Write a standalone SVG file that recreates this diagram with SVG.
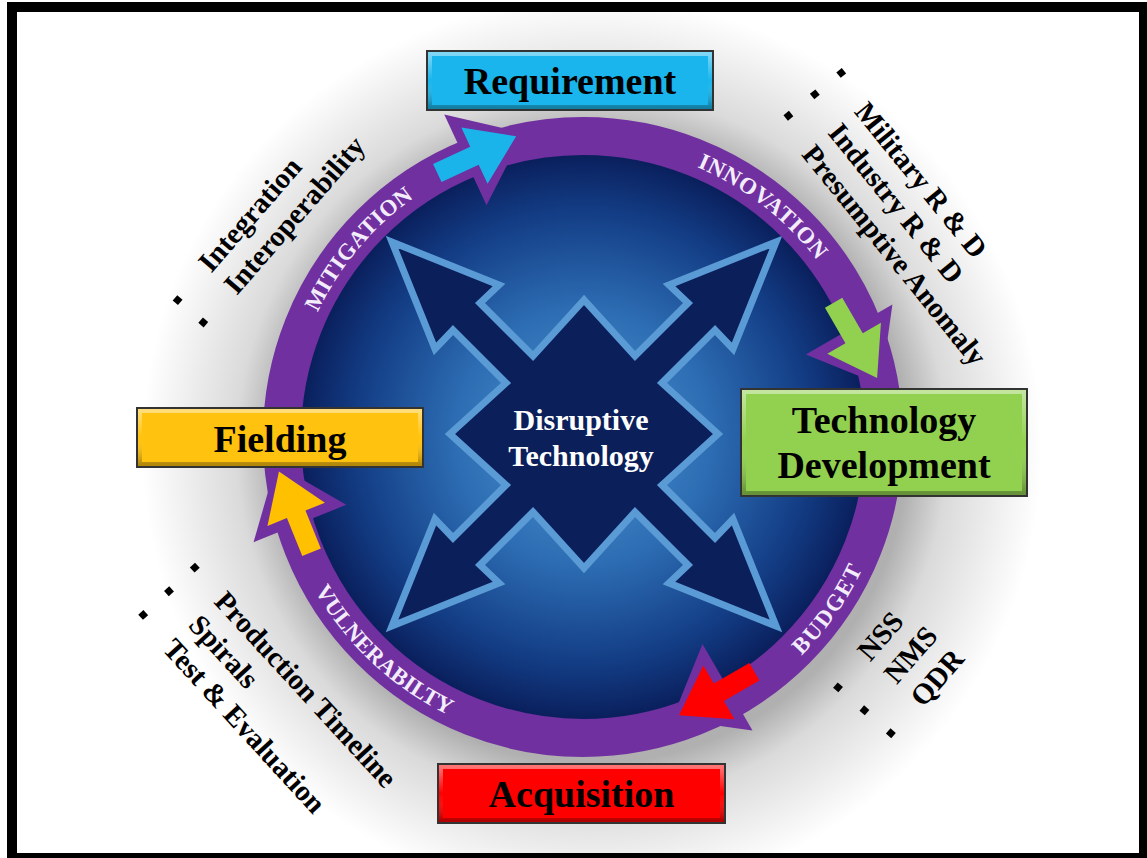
<svg xmlns="http://www.w3.org/2000/svg" width="1147" height="858" viewBox="0 0 1147 858">
<defs>
<style>
.title{font-family:"Liberation Serif","Times New Roman",serif;font-weight:bold;font-size:38px;fill:#000;text-anchor:middle}
.ring{fill:none;stroke:#7030a0;stroke-width:38}
.phead{fill:#7030a0}
.rl{font-family:"Liberation Serif","Times New Roman",serif;font-weight:bold;font-size:23px;fill:#f3ecfb}
.lst{font-family:"Liberation Serif","Times New Roman",serif;font-weight:bold;font-size:29px;fill:#000}
.bul{fill:#000}
.boxr{stroke:#333;stroke-width:2}
.bev{fill:none;stroke:url(#bevel);stroke-width:4}
.ctr{font-family:"Liberation Serif","Times New Roman",serif;font-weight:bold;font-size:30px;fill:#fff;text-anchor:middle}
</style>
<radialGradient id="halo" gradientUnits="userSpaceOnUse" cx="592" cy="448" r="450">
<stop offset="0.7" stop-color="#b0b0b0"/>
<stop offset="0.79" stop-color="#dadada"/>
<stop offset="1" stop-color="#ffffff"/>
</radialGradient>
<radialGradient id="core" gradientUnits="userSpaceOnUse" cx="583" cy="437" r="283">
<stop offset="0" stop-color="#4f97d6"/>
<stop offset="0.45" stop-color="#2d6db3"/>
<stop offset="0.8" stop-color="#133d85"/>
<stop offset="1" stop-color="#0a1f5c"/>
</radialGradient>
<linearGradient id="bevel" x1="0" y1="0" x2="0" y2="1">
<stop offset="0" stop-color="#fff" stop-opacity="0.45"/>
<stop offset="0.5" stop-color="#fff" stop-opacity="0"/>
<stop offset="1" stop-color="#000" stop-opacity="0.3"/>
</linearGradient>
<clipPath id="inner"><rect x="17" y="12" width="1122" height="841"/></clipPath>
<path id="p-innov" d="M633.9,148.5 A293,293 0 0,1 850.7,317.8"/>
<path id="p-mitig" d="M296.4,376.1 A293,293 0 0,1 473.2,165.3"/>
<path id="p-budget" d="M737.5,704.6 A309,309 0 0,0 887.3,490.6"/>
<path id="p-vuln" d="M287.5,527.3 A309,309 0 0,0 513.5,738.1"/>
</defs>

<rect x="0" y="0" width="1147" height="858" fill="#fff"/>
<rect x="7" y="2" width="1140" height="856" fill="#000"/>
<rect x="17" y="12" width="1122" height="841" fill="#fff"/>
<circle cx="592" cy="448" r="450" fill="url(#halo)" clip-path="url(#inner)"/>

<g id="core-circle">
<circle cx="583" cy="437" r="284" fill="url(#core)"/>
</g>

<g id="disruptive-technology">
<polygon transform="translate(584 434)" fill="#0b1f5b" stroke="#5b9bd5" stroke-width="7" stroke-linejoin="miter"
points="0,-134 -51,-78 -104,-131 -85,-149 -192,-192 -149,-85 -131,-104 -78,-51 -134,0 -78,51 -131,104 -149,85 -192,192 -85,149 -104,131 -51,78 0,134 51,78 104,131 85,149 192,192 149,85 131,104 78,51 134,0 78,-51 131,-104 149,-85 192,-192 85,-149 104,-131 51,-78"/>
<text class="ctr" x="581" y="430">Disruptive</text>
<text class="ctr" x="581" y="466">Technology</text>
</g>

<g id="connectors">
<circle class="ring" cx="583" cy="437" r="301"/>
<g id="arrow-requirement" transform="rotate(-23 583 437) rotate(-2 583 136)">
<polygon class="phead" points="583,86 647,136 583,186"/>
<polygon fill="#1ab4ea" points="552,126 593,126 593,105 639,136 593,167 593,146 552,146"/>
</g>
<g id="arrow-techdev" transform="rotate(68 583 437) translate(0 14) rotate(-8 583 136)">
<polygon class="phead" points="583,86 647,136 583,186"/>
<polygon fill="#92d050" points="552,126 593,126 593,105 639,136 593,167 593,146 552,146"/>
</g>
<g id="arrow-acquisition" transform="rotate(150 583 437) translate(0 12)">
<polygon class="phead" points="583,86 647,136 583,186"/>
<polygon fill="#ff0000" points="552,126 593,126 593,105 639,136 593,167 593,146 552,146"/>
</g>
<g id="arrow-fielding" transform="rotate(253 583 437) translate(0 5) rotate(-5 583 136)">
<polygon class="phead" points="583,86 647,136 583,186"/>
<polygon fill="#ffc000" points="552,126 593,126 593,105 639,136 593,167 593,146 552,146"/>
</g>
<text class="rl" letter-spacing="0.7"><textPath href="#p-innov" startOffset="50%" text-anchor="middle">INNOVATION</textPath></text>
<text class="rl" letter-spacing="0.5"><textPath href="#p-mitig" startOffset="50%" text-anchor="middle">MITIGATION</textPath></text>
<text class="rl" letter-spacing="1.8"><textPath href="#p-budget" startOffset="50%" text-anchor="middle">BUDGET</textPath></text>
<text class="rl" letter-spacing="0.2"><textPath href="#p-vuln" startOffset="50%" text-anchor="middle">VULNERABILTY</textPath></text>
</g>

<g id="node-requirement">
<rect class="boxr" x="427" y="51" width="286" height="59" fill="#19b5ec"/>
<rect class="bev" x="430" y="54" width="280" height="53"/>
<text class="title" x="570" y="94">Requirement</text>
</g>
<g id="node-techdev">
<rect class="boxr" x="741" y="389" width="286" height="107" fill="#92d050"/>
<rect class="bev" x="744" y="392" width="280" height="101"/>
<text class="title" x="884" y="433">Technology</text>
<text class="title" x="884" y="478">Development</text>
</g>
<g id="node-fielding">
<rect class="boxr" x="137" y="408" width="286" height="59" fill="#ffc20e"/>
<rect class="bev" x="140" y="411" width="280" height="53"/>
<text class="title" x="280" y="452">Fielding</text>
</g>
<g id="node-acquisition">
<rect class="boxr" x="438" y="764" width="287" height="59" fill="#ff0000"/>
<rect class="bev" x="441" y="767" width="281" height="53"/>
<text class="title" x="581.5" y="807">Acquisition</text>
</g>

<g id="list-innovation" transform="translate(853.5 111.9) rotate(51)">
<rect class="bul" x="-41.5" y="-18.5" width="7" height="7"/>
<rect class="bul" x="-41.5" y="15.5" width="7" height="7"/>
<rect class="bul" x="-41.5" y="49.5" width="7" height="7"/>
<text class="lst" x="0" y="0">Military R &amp; D</text>
<text class="lst" x="0" y="34">Industry R &amp; D</text>
<text class="lst" x="0" y="68">Presumptive Anomaly</text>
</g>
<g id="list-mitigation" transform="translate(211.2 273.7) rotate(-49)">
<rect class="bul" x="-45.5" y="-11.5" width="7" height="7"/>
<rect class="bul" x="-45.5" y="22.5" width="7" height="7"/>
<text class="lst" x="0" y="0">Integration</text>
<text class="lst" x="0" y="34">Interoperability</text>
</g>
<g id="list-vulnerability" transform="translate(213.1 602.4) rotate(47.5)">
<rect class="bul" x="-41.5" y="-13.5" width="7" height="7"/>
<rect class="bul" x="-41.5" y="21.5" width="7" height="7"/>
<rect class="bul" x="-41.5" y="56.5" width="7" height="7"/>
<text class="lst" x="0" y="0">Production Timeline</text>
<text class="lst" x="0" y="35">Spirals</text>
<text class="lst" x="0" y="70">Test &amp; Evaluation</text>
</g>
<g id="list-budget" transform="translate(870.3 662.4) rotate(-49)">
<rect class="bul" x="-43.5" y="-11.5" width="7" height="7"/>
<rect class="bul" x="-43.5" y="23.5" width="7" height="7"/>
<rect class="bul" x="-43.5" y="58.5" width="7" height="7"/>
<text class="lst" x="0" y="0">NSS</text>
<text class="lst" x="0" y="35">NMS</text>
<text class="lst" x="0" y="70">QDR</text>
</g>
</svg>
